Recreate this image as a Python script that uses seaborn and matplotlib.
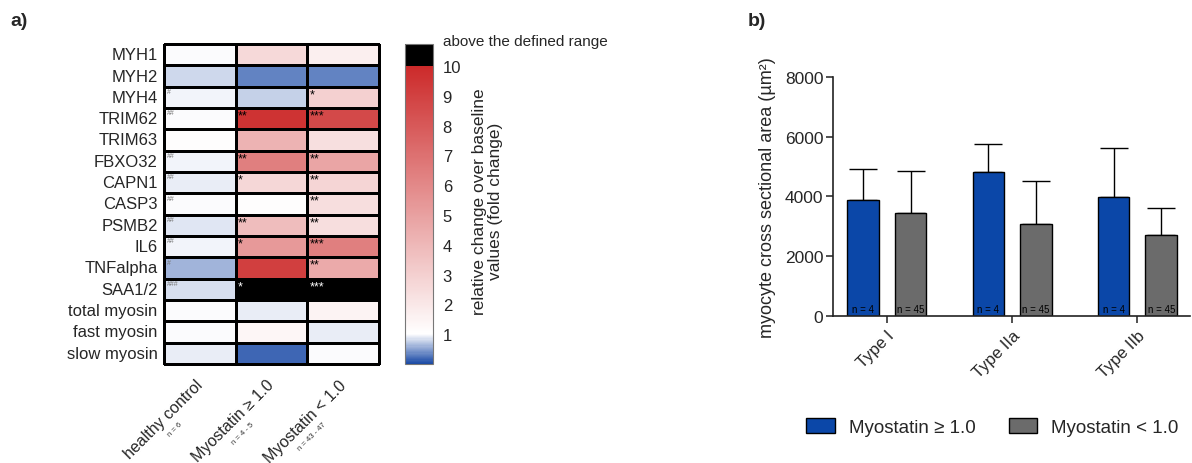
import numpy as np
import pandas as pd
import matplotlib
matplotlib.use("Agg")
import matplotlib.pyplot as plt
import seaborn as sns
from matplotlib.colors import LinearSegmentedColormap
from matplotlib.patches import Patch

# ---------------- data: heatmap ----------------
genes = ["MYH1", "MYH2", "MYH4", "TRIM62", "TRIM63", "FBXO32", "CAPN1", "CASP3",
         "PSMB2", "IL6", "TNFalpha", "SAA1/2", "total myosin", "fast myosin", "slow myosin"]
conditions = ["healthy control", "Myostatin ≥ 1.0", "Myostatin < 1.0"]
condition_n = ["n = 6", "n = 4 - 5", "n = 43 - 47"]

healthy = [1.0, 0.81, 0.97, 1.0, 1.1, 0.97, 0.9, 1.0, 0.86, 0.97, 0.62, 0.83, 1.0, 1.0, 0.9]
myo_high = [2.6, 0.35, 0.76, 9.6, 4.2, 6.4, 2.7, 1.1, 3.8, 5.3, 9.1, 12.0, 0.93, 1.4, 0.17]
myo_low = [1.7, 0.35, 3.0, 8.7, 2.35, 4.8, 2.8, 2.4, 2.4, 6.4, 4.6, 12.0, 1.5, 0.9, 1.0]

healthy_sig = ["", "", "#", "##", "", "##", "##", "##", "##", "##", "#", "###", "", "", ""]
high_sig = ["", "", "", "**", "", "**", "*", "", "**", "*", "", "*", "", "", ""]
low_sig = ["", "", "*", "***", "", "**", "**", "**", "**", "***", "**", "***", "", "", ""]

cbar_ticks = [1, 2, 3, 4, 5, 6, 7, 8, 9, 10]

# ---------------- data: bar chart ----------------
fiber_types = ["Type I", "Type IIa", "Type IIb"]
groups = ["Myostatin ≥ 1.0", "Myostatin < 1.0"]
csa_high = [3880, 4810, 3990]
csa_high_sd = [1050, 940, 1630]
csa_low = [3440, 3070, 2700]
csa_low_sd = [1410, 1430, 905]
n_high = ["n = 4", "n = 4", "n = 4"]
n_low = ["n = 45", "n = 45", "n = 45"]
y_ticks = [0, 2000, 4000, 6000, 8000]

# ---------------- style ----------------
sns.set_theme(style="ticks")
plt.rcParams["font.family"] = ["Liberation Sans", "DejaVu Sans"]
plt.rcParams["axes.edgecolor"] = "#222222"

W, H = 1192, 464
fig = plt.figure(figsize=(W / 100, H / 100), dpi=100)

ax_h = fig.add_axes([164 / W, (H - 365) / H, (379 - 164) / W, (365 - 45) / H])
cax = fig.add_axes([405 / W, (H - 365) / H, 28 / W, (365 - 45) / H])
ax_b = fig.add_axes([833 / W, (H - 317) / H, (1190 - 833) / W, (317 - 77.7) / H])

# ---------------- heatmap ----------------
cmap = LinearSegmentedColormap.from_list(
    "fold", [(0.0, "#1a4aa6"), (0.1, "#ffffff"), (1.0, "#cc2a2a")])
cmap.set_over("black")

df = pd.DataFrame({c: v for c, v in zip(conditions, [healthy, myo_high, myo_low])}, index=genes)
sns.heatmap(df, ax=ax_h, cmap=cmap, vmin=0, vmax=10, linewidths=0.75, linecolor="black",
            xticklabels=False, yticklabels=True, cbar_ax=cax,
            cbar_kws=dict(extend="max", extendrect=True, extendfrac=22 / 298, ticks=cbar_ticks))
ax_h.collections[0].set_clip_on(False)
ax_h.set_yticklabels(genes, rotation=0, fontsize=12)
ax_h.tick_params(axis="y", length=0, pad=4.5)
ax_h.set_xlabel("")
ax_h.set_ylabel("")

for ci, (marks, is_hash) in enumerate([(healthy_sig, True), (high_sig, False), (low_sig, False)]):
    vals = [healthy, myo_high, myo_low][ci]
    for ri, s in enumerate(marks):
        if not s:
            continue
        color = "#777777" if is_hash else ("white" if vals[ri] > 10 else "black")
        ax_h.text(ci + 0.035, ri + 0.06, s, ha="left", va="top",
                  fontsize=5 if is_hash else 9, color=color)

for ci, (lab, nlab) in enumerate(zip(conditions, condition_n)):
    ax_h.annotate(lab, xy=(ci + 0.5, 0), xycoords=("data", "axes fraction"),
                  xytext=(-5 * 0.72, -13 * 0.72), textcoords="offset points",
                  rotation=45, ha="right", va="top", rotation_mode="anchor",
                  fontsize=11.5, annotation_clip=False)
    ax_h.annotate(nlab, xy=(ci + 0.5, 0), xycoords=("data", "axes fraction"),
                  xytext=(-21 * 0.72, -56 * 0.72), textcoords="offset points",
                  rotation=45, ha="right", va="top", rotation_mode="anchor",
                  fontsize=5.5, color="#333333", annotation_clip=False)

cbar = ax_h.collections[0].colorbar
cbar.outline.set_linewidth(0.8)
cbar.outline.set_edgecolor("#777777")
cax.tick_params(labelsize=12, direction="in", length=3, width=0.8, left=True, right=True,
                labelleft=False, labelright=True, pad=7)
fig.text(443 / W, (H - 42) / H, "above the defined range", fontsize=11, ha="left", va="center")
fig.text(487.5 / W, (H - 201.5) / H, "relative change over baseline\nvalues (fold change)",
         rotation=90, ha="center", va="center", multialignment="center",
         fontsize=12.5, linespacing=1.15)

# ---------------- bar chart ----------------
palette = ["#0b47a8", "#6b6b6b"]
bar_df = pd.DataFrame({
    "fiber": fiber_types * 2,
    "group": [groups[0]] * 3 + [groups[1]] * 3,
    "csa": csa_high + csa_low,
})
sns.barplot(data=bar_df, x="fiber", y="csa", hue="group", hue_order=groups, order=fiber_types,
            palette=palette, width=0.76, gap=0.34, errorbar=None, edgecolor="black",
            linewidth=1, ax=ax_b, legend=False, saturation=1)

for cont, sds, ns in zip(ax_b.containers, [csa_high_sd, csa_low_sd], [n_high, n_low]):
    xs = [p.get_x() + p.get_width() / 2 for p in cont]
    ys = [p.get_height() for p in cont]
    ax_b.errorbar(xs, ys, yerr=[np.zeros(len(sds)), sds], fmt="none", ecolor="black",
                  elinewidth=1.0, capsize=10, capthick=1.0, zorder=0.9)
    for x, lab in zip(xs, ns):
        ax_b.text(x, 240, lab, ha="center", va="center", fontsize=7, color="black")

ax_b.set_xlim(-0.43, 2.42)
ax_b.set_ylim(0, 8000)
ax_b.set_yticks(y_ticks)
ax_b.set_yticklabels([str(v) for v in y_ticks], fontsize=12.5)
ax_b.set_xticks(range(len(fiber_types)))
ax_b.set_xticklabels(fiber_types, rotation=45, ha="right", rotation_mode="anchor", fontsize=12)
ax_b.set_xlabel("")
ax_b.set_ylabel("myocyte cross sectional area (µm²)", fontsize=13, labelpad=6)
sns.despine(ax=ax_b)
for sp in ["left", "bottom"]:
    ax_b.spines[sp].set_linewidth(1.2)
ax_b.tick_params(axis="both", length=5, width=1.1, color="#222222")
ax_b.tick_params(axis="x", pad=3.5)
ax_b.tick_params(axis="y", pad=2)

handles = [Patch(facecolor=c, edgecolor="black", linewidth=1) for c in palette]
fig.legend(handles, groups, loc="center", bbox_to_anchor=(992.5 / W, (H - 428) / H), ncol=2,
           frameon=False, fontsize=13.5, handlelength=1.5, handleheight=0.85,
           handletextpad=0.75, columnspacing=1.8)

# ---------------- panel labels ----------------
fig.text(10 / W, (H - 21) / H, "a)", fontsize=14, fontweight="bold", ha="left", va="center")
fig.text(748 / W, (H - 21) / H, "b)", fontsize=14, fontweight="bold", ha="left", va="center")

fig.savefig("out.png", dpi=100)
